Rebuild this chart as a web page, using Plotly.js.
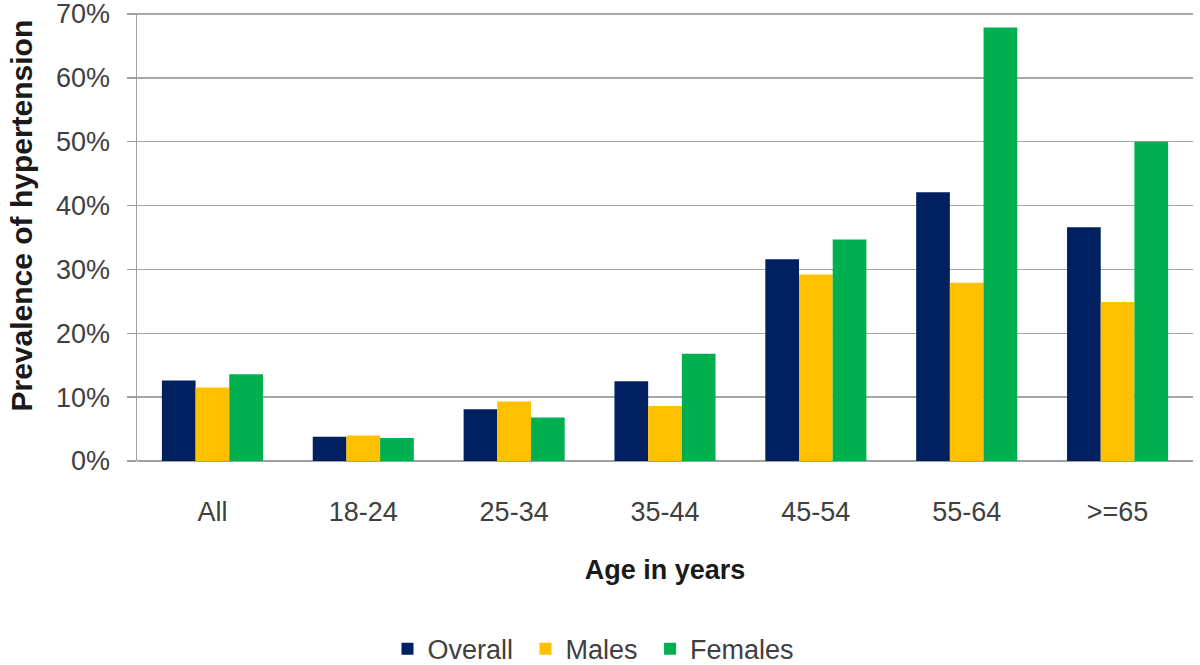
<!DOCTYPE html>
<html>
<head>
<meta charset="utf-8">
<script src="https://cdn.plot.ly/plotly-3.0.1.min.js"></script>
<style>html,body{margin:0;padding:0;background:#fff;}#chart{width:1200px;height:665px;}</style>
</head>
<body>
<div id="chart"></div>
<script>
const categories = ["All", "18-24", "25-34", "35-44", "45-54", "55-64", ">=65"];
const overall = [0.126, 0.038, 0.081, 0.125, 0.316, 0.421, 0.366];
const males = [0.115, 0.040, 0.093, 0.086, 0.292, 0.279, 0.249];
const females = [0.136, 0.036, 0.068, 0.168, 0.347, 0.679, 0.500];
const seriesNames = ["Overall", "Males", "Females"];
const yTickVals = [0, 0.1, 0.2, 0.3, 0.4, 0.5, 0.6, 0.7];
const yTitle = "Prevalence of hypertension";
const xTitle = "Age in years";

const colors = ["#002060", "#FFC000", "#00B050"];
const font = "Liberation Sans, Arial, sans-serif";

const traces = [overall, males, females].map((vals, i) => ({
  type: "bar",
  name: seriesNames[i] + "\u00a0",
  x: categories,
  y: vals,
  marker: {color: colors[i], line: {width: 0}},
  hoverinfo: "x+y"
}));

const layout = {
  width: 1200,
  height: 665,
  margin: {l: 137, r: 7, t: 13, b: 204, autoexpand: false},
  paper_bgcolor: "#fff",
  plot_bgcolor: "#fff",
  barmode: "group",
  bargap: 0.33,
  bargroupgap: 0,
  font: {family: font, color: "#404040", size: 27},
  xaxis: {
    type: "category",
    showline: false,
    ticks: "",
    ticklabelstandoff: 32,
    tickfont: {size: 27, color: "#404040"},
    title: {text: "<b>" + xTitle + "</b>", font: {size: 27, color: "#1a1a1a"}, standoff: 34},
    showgrid: false,
    zeroline: false
  },
  yaxis: {
    range: [0, 0.7016],
    tickvals: yTickVals,
    tickformat: ".0%",
    ticks: "outside",
    ticklen: 9,
    tickwidth: 1.5,
    tickcolor: "#a0a0a0",
    ticklabelstandoff: 11,
    ticklabeloverflow: "allow",
    tickfont: {size: 27, color: "#404040"},
    showline: true,
    linecolor: "#a0a0a0",
    linewidth: 1.5,
    showgrid: true,
    gridcolor: "#a6a6a6",
    gridwidth: 1.5,
    zeroline: true,
    zerolinecolor: "#a0a0a0",
    zerolinewidth: 1.5
  },
  annotations: [{
    text: "<b>" + yTitle + "</b>",
    textangle: -90,
    xref: "paper", yref: "paper",
    x: -0.1098, y: 0.548,
    xanchor: "center", yanchor: "middle",
    showarrow: false,
    font: {size: 30, color: "#1a1a1a", family: font}
  }],
  legend: {
    orientation: "h",
    x: 0.4356,
    xanchor: "center",
    y: -0.42,
    yanchor: "middle",
    font: {size: 27, color: "#404040"},
    itemwidth: 30,
    traceorder: "normal"
  },
  showlegend: true
};

Plotly.newPlot("chart", traces, layout, {displayModeBar: false, staticPlot: true});
</script>
</body>
</html>
